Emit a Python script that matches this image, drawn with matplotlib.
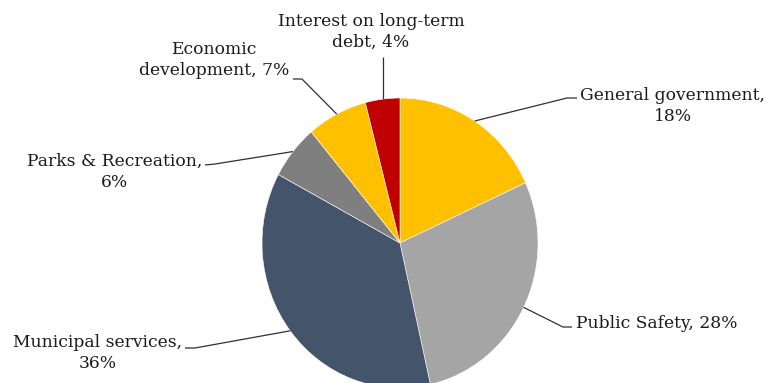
import numpy as np
import matplotlib.pyplot as plt

labels = ["General government,\n18%", "Public Safety, 28%", "Municipal services,\n36%",
          "Parks & Recreation,\n6%", "Economic\ndevelopment, 7%", "Interest on long-term\ndebt, 4%"]
values = [18, 28, 36, 6, 7, 4]
colors = ["#FFC000", "#A5A5A5", "#44546A", "#7F7F7F", "#FFC000", "#C00000"]

W, H = 766, 383
# pie is slightly stretched vertically in the reference
cx, cy, rx, ry = 400, 243, 138, 145

# label layout in pixel coords (y down): elbow, line end, text anchor, ha
layout = [
    ((567, 98), (577, 98), (580, 106), "left"),
    ((563, 327), (572, 327), (576, 323), "left"),
    ((195, 348), (185, 348), (182, 353), "right"),
    ((215, 164), (205, 165), (202, 172), "right"),
    ((302, 79), (293, 79), (289, 60), "right"),
    (None, (383, 57), (371, 32), "center"),
]

fig = plt.figure(figsize=(7.66, 3.83), dpi=100)
pax = fig.add_axes([(cx - rx) / W, (H - cy - ry) / H, 2 * rx / W, 2 * ry / H])
wedges, _ = pax.pie(values, colors=colors, startangle=90, counterclock=False,
                    radius=1, wedgeprops=dict(edgecolor="white", linewidth=0.4))
pax.set_aspect("auto")
pax.set_xlim(-1, 1)
pax.set_ylim(-1, 1)
pax.axis("off")

ax = fig.add_axes([0, 0, 1, 1])
ax.set_xlim(0, W)
ax.set_ylim(H, 0)
ax.axis("off")

for w, lab, (elbow, end, txt, ha) in zip(wedges, labels, layout):
    th = np.deg2rad((w.theta1 + w.theta2) / 2)
    px, py = cx + rx * np.cos(th), cy - ry * np.sin(th)
    if elbow is None:
        xs = [px, px]
        ys = [py, end[1]]
    else:
        xs = [px, elbow[0], end[0]]
        ys = [py, elbow[1], end[1]]
    ax.plot(xs, ys, color="#303030", lw=0.9, solid_capstyle="butt")
    ax.text(txt[0], txt[1], lab, ha=ha, va="center", multialignment="center",
            fontsize=12.3, family="DejaVu Serif", color="#1a1a1a", linespacing=1.3)

fig.savefig("out.png", dpi=100)
